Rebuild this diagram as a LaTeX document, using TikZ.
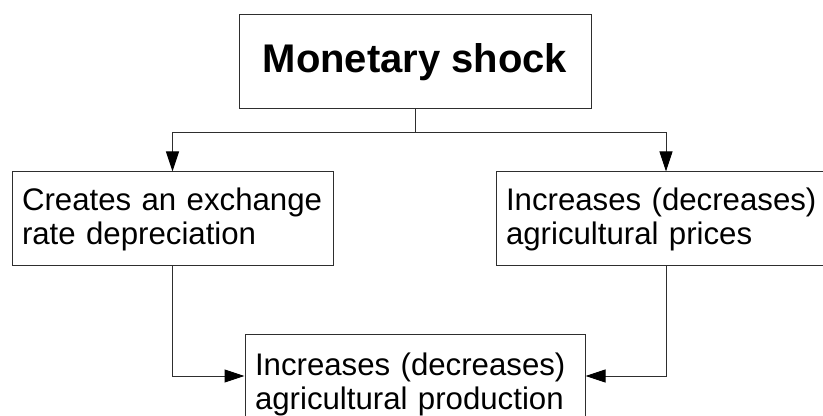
\documentclass[tikz,border=0pt]{standalone}
\usepackage{fontspec}
\setmainfont{Liberation Sans}
\usetikzlibrary{arrows.meta}

\begin{document}
\begin{tikzpicture}[x = 0.5pt, y = -0.5pt,
  box/.style = {draw = edge, line width = 0.5pt, inner xsep = 5pt, align = left, font = \fontsize{15.6}{17}\selectfont},
  link/.style = {draw = edge, line width = 0.5pt, -{Triangle[length = 10pt, width = 6.5pt, color = black]}}]
\definecolor{edge}{HTML}{2E2E2E}
\path[use as bounding box, clip] (0, 0) rectangle (823, 416);
% boxes
\node[box, minimum width = 176pt, minimum height = 47pt, align = center, font = \fontsize{20}{24}\bfseries\selectfont] (shock) at (415, 62) {Monetary shock};
\node[box, text width = 150.5pt, minimum height = 47pt] (rate) at (172.5, 219) {Creates an exchange\\rate depreciation};
\node[box, text width = 160pt, minimum height = 47pt] (prices) at (666, 219) {Increases (decreases)\\agricultural prices};
\node[box, text width = 160pt, minimum height = 50.5pt] (prod) at (415, 384.5) {Increases (decreases)\\agricultural production};
% arrows
\coordinate (fork) at (415, 133);
\draw[draw = edge, line width = 0.5pt] (shock.south) -- (fork);
\draw[link] (fork) -| (rate.north);
\draw[link] (fork) -| (prices.north);
\draw[link] (rate.south) |- ([yshift = 4.25pt]prod.west);
\draw[link] (prices.south) |- ([yshift = 4.25pt]prod.east);
\end{tikzpicture}
\end{document}
